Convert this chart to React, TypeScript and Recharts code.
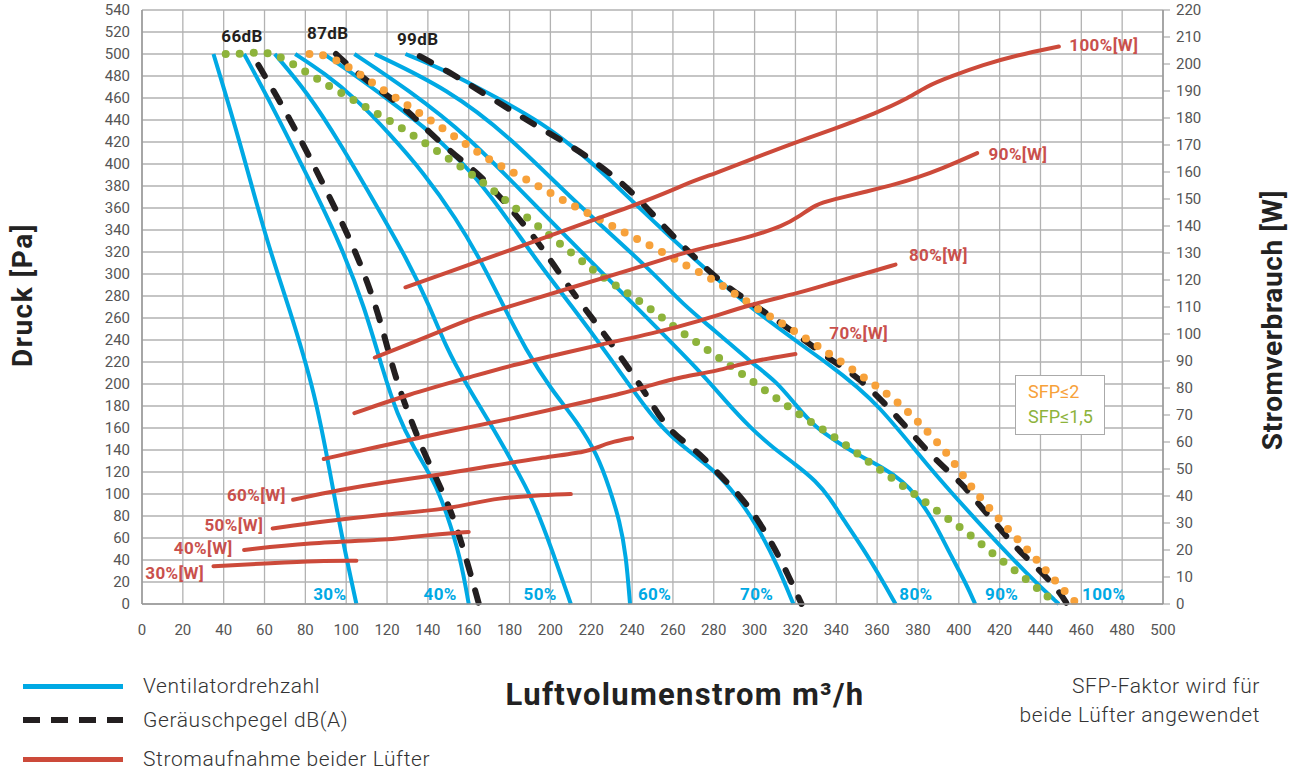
import React from 'react';
import { ComposedChart, Line, XAxis, YAxis, CartesianGrid, ReferenceDot } from 'recharts';

type Pt = [number, number];

// x = Luftvolumenstrom m³/h, y = Druck Pa (fan curves, noise, SFP) or W (power)
const xTicks = Array.from({ length: 26 }, (_, i) => i * 20);
const paTicks = Array.from({ length: 28 }, (_, i) => i * 20);
const wTicks = Array.from({ length: 23 }, (_, i) => i * 10);

// Ventilatordrehzahl
const speed30: Pt[] = [[35, 500], [48, 420], [61, 330], [72, 270], [85, 190], [92, 120], [98, 60], [105, 0]];
const speed40: Pt[] = [[50, 500], [64, 452], [81, 389], [97, 328], [109, 270], [118, 212], [125, 172], [133, 142], [143, 112], [149, 84], [156, 42], [160, 0]];
const speed50: Pt[] = [[65, 500], [81, 465], [97, 419], [113, 368], [130, 313], [141, 270], [149, 233], [159, 199], [170, 166], [182, 127], [192, 93], [201, 48], [210, 0]];
const speed60: Pt[] = [[75, 500], [89, 483], [105, 459], [121, 428], [138, 392], [154, 350], [166, 312], [177, 271], [188, 231], [200, 196], [213, 166], [223, 136], [229, 105], [234, 75], [237, 45], [239, 0]];
const speed70: Pt[] = [[89, 500], [105, 480], [121, 458], [138, 434], [154, 407], [170, 374], [194, 310], [210, 272], [228, 227], [249, 172], [258, 154], [272, 133], [281, 120], [291, 99], [301, 72], [311, 36], [319, 0]];
const speed80: Pt[] = [[104, 500], [130, 468], [160, 425], [190, 367], [249, 257], [273, 212], [286, 184], [298, 160], [309, 142], [320, 127], [330, 112], [337, 96], [343, 78], [353, 51], [363, 20], [369, 0]];
const speed90: Pt[] = [[114, 500], [150, 468], [180, 425], [211, 367], [249, 304], [265, 272], [281, 248], [298, 220], [311, 202], [320, 181], [330, 160], [340, 148], [350, 136], [363, 124], [373, 111], [379, 99], [387, 78], [395, 48], [404, 17], [408, 0]];
const speed100: Pt[] = [[129, 500], [146, 487], [162, 472], [178, 456], [195, 438], [211, 416], [227, 390], [249, 350], [296, 270], [340, 214], [361, 181], [384, 127], [409, 75], [435, 24], [449, 0]];

// Geräuschpegel dB(A)
const db66: Pt[] = [[57, 490], [69, 452], [77, 425], [90, 377], [103, 328], [115, 271], [123, 212], [130, 175], [139, 133], [149, 96], [156, 60], [165, 0]];
const db87: Pt[] = [[95, 500], [105, 483], [118, 465], [130, 449], [141, 428], [154, 407], [164, 392], [172, 377], [182, 356], [192, 334], [201, 310], [214, 275], [228, 242], [244, 199], [249, 184], [258, 157], [272, 139], [281, 121], [291, 102], [299, 84], [307, 60], [314, 36], [323, 0]];
const db99: Pt[] = [[136, 498], [151, 483], [164, 468], [178, 452], [191, 437], [205, 422], [218, 407], [231, 389], [242, 371], [257, 340], [275, 307], [286, 289], [298, 274], [314, 254], [325, 239], [338, 221], [351, 206], [366, 178], [376, 157], [389, 130], [402, 109], [410, 90], [420, 69], [428, 51], [440, 30], [449, 12], [453, 0]];

// SFP
const sfp2: Pt[] = [[82, 500], [89, 500], [101, 489], [114, 472], [128, 456], [141, 440], [154, 424], [167, 407], [183, 391], [197, 377], [211, 362], [225, 349], [239, 335], [253, 322], [267, 307], [279, 296], [292, 280], [305, 264], [319, 249], [332, 233], [345, 217], [359, 199], [372, 181], [383, 160], [395, 136], [404, 111], [415, 87], [426, 64], [437, 43], [447, 21], [458, 0]];
const sfp15: Pt[] = [[41, 500], [50, 500], [57, 502], [65, 500], [73, 492], [86, 477], [100, 462], [114, 447], [128, 432], [141, 416], [155, 399], [168, 382], [180, 364], [193, 345], [205, 327], [218, 308], [224, 299], [235, 286], [248, 270], [261, 251], [274, 235], [287, 218], [300, 201], [313, 184], [326, 167], [340, 151], [353, 133], [366, 116], [379, 99], [392, 81], [405, 64], [417, 45], [430, 27], [442, 9], [448, 0]];

// Stromaufnahme beider Lüfter [W]
const pow30: Pt[] = [[35, 14], [64, 15.2], [86, 16], [105, 16]];
const pow40: Pt[] = [[50, 20], [81, 22.6], [120, 23.8], [130, 24.7], [146, 25.9], [160, 26.7]];
const pow50: Pt[] = [[64, 28], [89, 30.6], [121, 33.3], [146, 34.9], [159, 36.8], [175, 39.3], [192, 40.2], [210, 40.7]];
const pow60: Pt[] = [[74, 38.6], [97, 42.3], [121, 45.4], [146, 47.9], [170, 51], [195, 54.1], [219, 56.5], [224, 58.4], [231, 60.2], [240, 61.5]];
const pow70: Pt[] = [[89, 53.7], [113, 57.8], [146, 63.3], [179, 68.3], [211, 73.8], [236, 78.1], [249, 81], [265, 84.3], [281, 86.1], [298, 89.9], [320, 92.6]];
const pow80: Pt[] = [[104, 70.7], [130, 77.5], [162, 84.3], [179, 88], [203, 92.3], [228, 96.7], [249, 100], [273, 104.7], [298, 111], [322, 115.2], [338, 118.9], [355, 122.6], [369, 125.7]];
const pow90: Pt[] = [[114, 91.3], [130, 96], [146, 101], [162, 106], [177, 109.6], [249, 126], [265, 130], [281, 133], [298, 136], [314, 140], [322, 143.6], [330, 148], [338, 149.7], [355, 152.8], [371, 155.9], [379, 157.8], [391, 161], [409, 167]];
const pow100: Pt[] = [[129, 117.3], [249, 149.5], [265, 155.3], [281, 159.6], [298, 164.6], [319, 170.7], [338, 175.7], [360, 182], [374, 186.8], [384, 191.7], [396, 195.4], [412, 199.7], [428, 203.2], [449, 206.5]];

const speedCurves = [speed30, speed40, speed50, speed60, speed70, speed80, speed90, speed100];
const noiseCurves = [db66, db87, db99];
const powerCurves = [pow30, pow40, pow50, pow60, pow70, pow80, pow90, pow100];

// label anchors (x, value)
const speedLabels = [
  { text: '30%', x: 92, y: 9 }, { text: '40%', x: 146, y: 9 }, { text: '50%', x: 195, y: 9 },
  { text: '60%', x: 251, y: 9 }, { text: '70%', x: 301, y: 9 }, { text: '80%', x: 379, y: 9 },
  { text: '90%', x: 421, y: 9 }, { text: '100%', x: 471, y: 9 },
];
const dbLabels = [
  { text: '66dB', x: 49, y: 516 }, { text: '87dB', x: 91, y: 519 }, { text: '99dB', x: 135, y: 514 },
];
const powLabels = [
  { text: '30%[W]', x: 16, y: 11.5 }, { text: '40%[W]', x: 30, y: 20.7 }, { text: '50%[W]', x: 45, y: 29.1 },
  { text: '60%[W]', x: 56, y: 40.2 }, { text: '70%[W]', x: 351, y: 100.5 }, { text: '80%[W]', x: 390, y: 129.4 },
  { text: '90%[W]', x: 429, y: 166.8 }, { text: '100%[W]', x: 471, y: 207.1 },
];

const BLUE = '#00a9e4';
const RED = '#cc4a3a';
const RED_TEXT = '#c9504c';
const BLACK = '#231f20';
const ORANGE = '#f7a13a';
const GREEN = '#8db33b';
const GRID = '#b2b2b2';

const toData = (pts: Pt[]) => pts.map(([x, y]) => ({ x, y }));

const App: React.FC = () => {
  const tickStyle = { fill: '#555', fontSize: 15 };
  const labelText = { fontSize: 17, fontWeight: 700, letterSpacing: 0.4 };

  return (
    <div style={{ position: 'absolute', left: 0, top: 0, width: 1299, height: 773, fontFamily: 'Roboto, sans-serif', background: '#fff' }}>
      <ComposedChart width={1299} height={650} margin={{ top: 10, right: 0, left: 0, bottom: 0 }}>
        <CartesianGrid yAxisId="left" stroke={GRID} strokeWidth={1.3} />
        <XAxis
          type="number"
          dataKey="x"
          domain={[0, 500]}
          ticks={xTicks}
          interval={0}
          allowDataOverflow
          height={46}
          tickLine={false}
          axisLine={{ stroke: '#999', strokeWidth: 1.5 }}
          tick={tickStyle}
          tickMargin={14}
        />
        <YAxis
          yAxisId="left"
          type="number"
          domain={[0, 540]}
          ticks={paTicks}
          interval={0}
          width={142}
          tickLine={false}
          axisLine={{ stroke: '#999', strokeWidth: 1.5 }}
          tick={tickStyle}
          tickMargin={6}
        />
        <YAxis
          yAxisId="right"
          orientation="right"
          type="number"
          domain={[0, 220]}
          ticks={wTicks}
          interval={0}
          width={136}
          tickLine={{ stroke: '#999' }}
          tickSize={7}
          axisLine={{ stroke: '#999', strokeWidth: 1.5 }}
          tick={tickStyle}
          tickMargin={6}
        />

        {speedCurves.map((c, i) => (
          <Line key={'s' + i} yAxisId="left" data={toData(c)} dataKey="y" type="basis" stroke={BLUE} strokeWidth={4} dot={false} activeDot={false} isAnimationActive={false} />
        ))}
        {noiseCurves.map((c, i) => (
          <Line key={'d' + i} yAxisId="left" data={toData(c)} dataKey="y" type="basis" stroke={BLACK} strokeWidth={6} strokeDasharray="13 17" strokeLinecap="round" dot={false} activeDot={false} isAnimationActive={false} />
        ))}
        <Line yAxisId="left" data={toData(sfp15)} dataKey="y" type="basis" stroke={GREEN} strokeWidth={8} strokeDasharray="0 14" strokeLinecap="round" dot={false} activeDot={false} isAnimationActive={false} />
        <Line yAxisId="left" data={toData(sfp2)} dataKey="y" type="basis" stroke={ORANGE} strokeWidth={8} strokeDasharray="0 14" strokeLinecap="round" dot={false} activeDot={false} isAnimationActive={false} />
        {powerCurves.map((c, i) => (
          <Line key={'p' + i} yAxisId="right" data={toData(c)} dataKey="y" type="basis" stroke={RED} strokeWidth={4} strokeLinecap="round" dot={false} activeDot={false} isAnimationActive={false} />
        ))}

        {speedLabels.map((l) => (
          <ReferenceDot key={l.text} yAxisId="left" x={l.x} y={l.y} r={0} fill="none" stroke="none"
            label={{ value: l.text, position: 'center', fill: BLUE, ...labelText }} />
        ))}
        {dbLabels.map((l) => (
          <ReferenceDot key={l.text} yAxisId="left" x={l.x} y={l.y} r={0} fill="none" stroke="none"
            label={{ value: l.text, position: 'center', fill: BLACK, ...labelText }} />
        ))}
        {powLabels.map((l) => (
          <ReferenceDot key={l.text} yAxisId="right" x={l.x} y={l.y} r={0} fill="none" stroke="none"
            label={{ value: l.text, position: 'center', fill: RED_TEXT, ...labelText }} />
        ))}
      </ComposedChart>

      {/* SFP box */}
      <div style={{ position: 'absolute', left: 1015, top: 375, width: 88, height: 58, border: '1.5px solid #aaa', background: '#fff', fontSize: 18 }}>
        <div style={{ position: 'absolute', left: 12, top: 5, color: ORANGE }}>SFP≤2</div>
        <div style={{ position: 'absolute', left: 12, top: 30, color: GREEN }}>SFP≤1,5</div>
      </div>

      {/* axis titles */}
      <div style={{ position: 'absolute', left: 22, top: 295, transform: 'translate(-50%, -50%) rotate(-90deg)', whiteSpace: 'nowrap', fontSize: 28, letterSpacing: 1.5, fontWeight: 700, color: '#222' }}>Druck [Pa]</div>
      <div style={{ position: 'absolute', left: 1272, top: 320, transform: 'translate(-50%, -50%) rotate(-90deg)', whiteSpace: 'nowrap', fontSize: 28, letterSpacing: 0.6, fontWeight: 700, color: '#222' }}>Stromverbrauch [W]</div>
      <div style={{ position: 'absolute', left: 685, top: 694, transform: 'translate(-50%, -50%)', whiteSpace: 'nowrap', fontSize: 31, letterSpacing: 1.3, fontWeight: 700, color: '#222' }}>Luftvolumenstrom m³/h</div>

      {/* legend */}
      <div style={{ position: 'absolute', left: 23, top: 684, width: 100, height: 5, background: BLUE }} />
      <svg style={{ position: 'absolute', left: 23, top: 715 }} width={100} height={10}>
        <line x1={0} y1={5} x2={100} y2={5} stroke={BLACK} strokeWidth={6} strokeDasharray="17 11" />
      </svg>
      <div style={{ position: 'absolute', left: 23, top: 757, width: 100, height: 5, background: RED }} />
      {['Ventilatordrehzahl', 'Geräuschpegel dB(A)', 'Stromaufnahme beider Lüfter'].map((t, i) => (
        <div key={t} style={{ position: 'absolute', left: 143, top: [686, 720, 759][i], transform: 'translateY(-50%)', whiteSpace: 'nowrap', fontSize: 21, letterSpacing: 0.6, fontWeight: 300, color: '#333' }}>{t}</div>
      ))}
      <div style={{ position: 'absolute', right: 1299 - 1260, top: 672, textAlign: 'right', fontSize: 21, letterSpacing: 0.6, fontWeight: 300, color: '#333', lineHeight: '29px' }}>
        SFP-Faktor wird für<br />beide Lüfter angewendet
      </div>
    </div>
  );
};

export default App;
